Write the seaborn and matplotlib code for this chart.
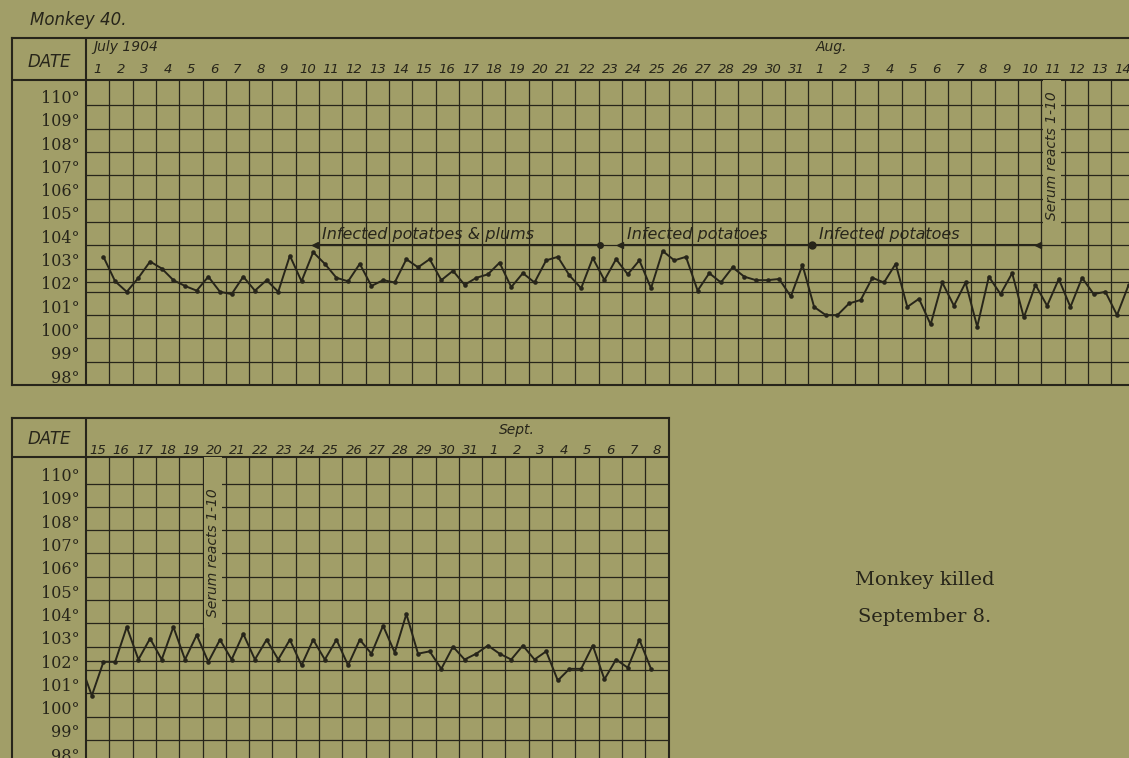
import numpy as np
import pandas as pd
import seaborn as sns
import matplotlib.pyplot as plt
from matplotlib.patches import Rectangle

# twice-daily temperatures, July 1 evening .. Aug 14 evening
top_temps = [
    103.5, 102.45, 102.0, 102.6, 103.3, 103.0, 102.5, 102.25, 102.05, 102.65,
    102.0, 101.9, 102.65, 102.05, 102.5, 102.0, 103.55, 102.45, 103.7, 103.2,
    102.6, 102.45, 103.2, 102.25, 102.5, 102.4, 103.4, 103.05, 103.4, 102.5,
    102.9, 102.3, 102.6, 102.75, 103.25, 102.2, 102.8, 102.4, 103.35, 103.5,
    102.7, 102.15, 103.45, 102.5, 103.4, 102.75, 103.35, 102.15, 103.75, 103.35,
    103.5, 102.05, 102.8, 102.4, 103.05, 102.65, 102.5, 102.5, 102.55, 101.8,
    103.15, 101.35, 101.0, 101.0, 101.5, 101.65, 102.6, 102.4, 103.2, 101.35,
    101.7, 100.6, 102.4, 101.4, 102.4, 100.5, 102.65, 101.9, 102.8, 100.9,
    102.3, 101.4, 102.55, 101.35, 102.6, 101.9, 102.0, 101.0, 102.3,
]
# Aug 14 evening .. Sept 8 morning
bottom_temps = [
    102.3, 100.9, 102.35, 102.35, 103.85, 102.45, 103.35, 102.45, 103.85, 102.45,
    103.5, 102.35, 103.3, 102.45, 103.55, 102.45, 103.3, 102.45, 103.3, 102.2,
    103.3, 102.45, 103.3, 102.2, 103.3, 102.7, 103.9, 102.75, 104.4, 102.7,
    102.8, 102.05, 103.0, 102.45, 102.7, 103.05, 102.7, 102.45, 103.05, 102.45,
    102.8, 101.55, 102.05, 102.05, 103.05, 101.6, 102.45, 102.1, 103.3, 102.05,
]

top_days = [str(d) for d in range(1, 32)] + [str(d) for d in range(1, 15)]
bottom_days = [str(d) for d in range(15, 32)] + [str(d) for d in range(1, 9)]
degrees = list(range(110, 97, -1))

# feeding periods (day offsets from July 1)
feeding = [("Infected potatoes & plums", 9.83, 22.06, "<", "o"),
           ("Infected potatoes", 22.9, 31.14, "<", "o"),
           ("Infected potatoes", 31.14, 40.86, "o", "<")]

PAPER = "#a19e68"
INK = "#27251a"
W, H = 1129, 758
CELL = 23.3

sns.set_style("white", rc={"axes.facecolor": PAPER, "figure.facecolor": PAPER})
plt.rcParams["font.family"] = ["DejaVu Sans"]

fig = plt.figure(figsize=(W / 100, H / 100), dpi=100)
fig.patch.set_facecolor(PAPER)


def make_chart(left, top, right, bottom, header_px, days, temps, t_start, top_labels_dy):
    ax = fig.add_axes([left / W, (H - bottom) / H, (right - left) / W, (bottom - top) / H])
    ax.set_facecolor(PAPER)
    x0 = -(86 - left) / CELL
    x1 = (right - 86) / CELL
    ymax = 98 + (bottom - top) / CELL
    head = 98 + (bottom - header_px) / CELL
    ax.set_xlim(x0, x1)
    ax.set_ylim(98, ymax)
    ax.set_xticks([])
    ax.set_yticks([])
    for s in ax.spines.values():
        s.set_color(INK)
        s.set_linewidth(1.5)

    ncol = int(np.floor(x1 + 1e-6))
    ax.hlines(range(99, 111), 0, x1, color=INK, lw=0.9, zorder=1)
    ax.hlines(102.4, 0, x1, color=INK, lw=0.9, zorder=1)
    ax.vlines(range(1, ncol + 1), 98, head, color=INK, lw=0.9, zorder=1)
    ax.vlines(0, 98, ymax, color=INK, lw=1.5, zorder=2)
    ax.hlines(head, x0, x1, color=INK, lw=1.5, zorder=2)

    for d in degrees:
        ax.text(-0.26, d + 0.3, f"{d}°", ha="right", va="center", fontsize=11.5,
                family="DejaVu Serif", color=INK)
    for i, lab in enumerate(days):
        ax.text(i + 0.5, head + top_labels_dy, lab, ha="center", va="center",
                fontsize=9.5, style="italic", color=INK, clip_on=True)
    ax.text(x0 / 2, head + 0.78, "DATE", ha="center", va="center", fontsize=12,
            style="italic", color=INK)

    df = pd.DataFrame({"t": t_start + 0.5 * np.arange(len(temps)), "temp": temps})
    sns.lineplot(data=df, x="t", y="temp", ax=ax, color=INK, lw=1.4, marker="o",
                 markersize=3.3, markeredgewidth=0, zorder=4)
    clip = Rectangle((0, 98), x1, head - 98, transform=ax.transData)
    ax.lines[-1].set_clip_path(clip)
    ax.set_xlabel("")
    ax.set_ylabel("")
    return ax, head


ax1, head1 = make_chart(12, 38, W, 385, 80, top_days, top_temps, 0.75, 0.43)
ax1.spines["right"].set_visible(False)
ax1.text(0.3, head1 + 1.42, "July 1904", ha="left", va="center", fontsize=10,
         style="italic", color=INK)
ax1.text(32.0, head1 + 1.42, "Aug.", ha="center", va="center", fontsize=10,
         style="italic", color=INK)

for label, a, b, ma, mb in feeding:
    ax1.plot([a, b], [104, 104], color=INK, lw=1.5, zorder=3)
    ax1.plot([a], [104], marker=ma, color=INK, markersize=5, zorder=3)
    ax1.plot([b], [104], marker=mb, color=INK, markersize=4, zorder=3)
for label, a, b, ma, mb in feeding:
    ax1.text(a + 0.3, 104.48, label, ha="left", va="center", fontsize=11.5,
             style="italic", color=INK, zorder=3)

ax1.add_patch(Rectangle((41.06, 104.3), 0.78, head1 - 104.3, facecolor=PAPER,
                        edgecolor="none", zorder=2))
ax1.text(41.45, 107.85, "Serum reacts 1-10", rotation=90, ha="center", va="center",
         fontsize=10, style="italic", color=INK, zorder=3)

ax2, head2 = make_chart(12, 418, 86 + 25 * CELL, 763.2, 457, bottom_days, bottom_temps,
                        -0.25, 0.3)
ax2.text(18.5, head2 + 1.16, "Sept.", ha="center", va="center", fontsize=10,
         style="italic", color=INK)
ax2.add_patch(Rectangle((5.06, 103.8), 0.78, head2 - 103.8, facecolor=PAPER,
                        edgecolor="none", zorder=2))
ax2.text(5.45, 107.05, "Serum reacts 1-10", rotation=90, ha="center", va="center",
         fontsize=10, style="italic", color=INK, zorder=3)

fig.text(30 / W, 1 - 20 / H, "Monkey 40.", ha="left", va="center", fontsize=12,
         style="italic", color=INK)
fig.text(925 / W, 1 - 580 / H, "Monkey killed", ha="center", va="center",
         fontsize=14, family="DejaVu Serif", color=INK)
fig.text(925 / W, 1 - 617 / H, "September 8.", ha="center", va="center",
         fontsize=14, family="DejaVu Serif", color=INK)

plt.savefig("out.png", dpi=100, facecolor=PAPER)
